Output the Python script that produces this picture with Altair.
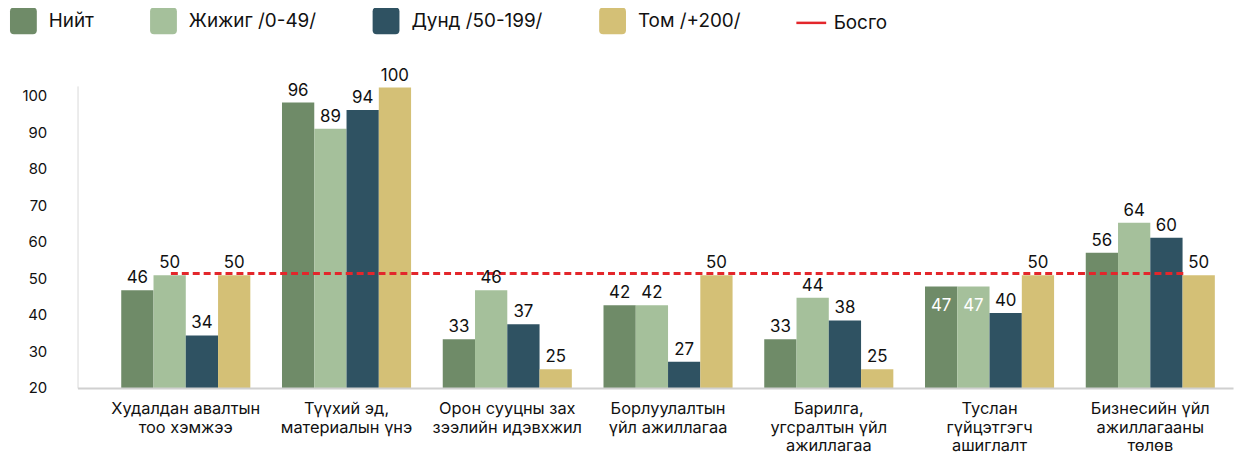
import altair as alt
import pandas as pd

# ---------------- data ----------------
categories = [
    "Худалдан авалтын\nтоо хэмжээ",
    "Түүхий эд,\nматериалын үнэ",
    "Орон сууцны зах\nзээлийн идэвхжил",
    "Борлуулалтын\nүйл ажиллагаа",
    "Барилга,\nугсралтын үйл\nажиллагаа",
    "Туслан\nгүйцэтгэгч\nашиглалт",
    "Бизнесийн үйл\nажиллагааны\nтөлөв",
]
series_names = ["Нийт", "Жижиг /0-49/", "Дунд /50-199/", "Том /+200/"]
niit = [46, 96, 33, 42, 33, 47, 56]
jijig = [50, 89, 46, 42, 44, 47, 64]
dund = [34, 94, 37, 27, 38, 40, 60]
tom = [50, 100, 25, 50, 25, 50, 50]
threshold_name = "Босго"
threshold_value = 50.5
y_tick_values = [20, 30, 40, 50, 60, 70, 80, 90, 100]

# ---------------- style ----------------
colors = ["#6F8B68", "#A5C09B", "#2F5262", "#D4C076"]
red = "#E3262B"
text_color = "#111111"
rounded_square = "M-0.7,-1H0.7Q1,-1,1,-0.7V0.7Q1,1,0.7,1H-0.7Q-1,1,-1,0.7V-0.7Q-1,-1,-0.7,-1Z"

rows = []
for s, vals in zip(series_names, [niit, jijig, dund, tom]):
    for c, v in zip(categories, vals):
        rows.append({"cat": c, "series": s, "value": v})
df = pd.DataFrame(rows)
# labels drawn inside the bar (white) for these two bars, as in the original
df["inside"] = (df["cat"] == categories[5]) & df["series"].isin(series_names[:2])

rule_df = pd.DataFrame({
    "cat": [categories[0]],
    "cat_end": [categories[-1]],
    "value": [threshold_value],
    "name": [threshold_name],
})
axis_df = pd.DataFrame({"v": y_tick_values})

x_enc = alt.X(
    "cat:N",
    sort=categories,
    scale=alt.Scale(domain=categories, paddingInner=0.197, paddingOuter=0.1925, align=0.706),
    axis=alt.Axis(
        title=None,
        labelExpr="split(datum.label, '\\n')",
        labelAngle=0,
        labelFontSize=16.5,
        labelColor=text_color,
        labelLineHeight=18.5,
        labelPadding=13,
        labelBaseline="top",
        labelLimit=0,
        ticks=False,
        domainColor="#D0D0D0",
        domainWidth=2,
        zindex=1,
    ),
)
xoff = alt.XOffset(
    "series:N", sort=series_names,
    scale=alt.Scale(domain=series_names, paddingInner=0, paddingOuter=0),
)
y_enc = alt.Y("value:Q", scale=alt.Scale(domain=[20, 100.42], zero=False, nice=False), axis=None)

base = alt.Chart(df)

bars = base.mark_bar().encode(
    x=x_enc,
    xOffset=xoff,
    y=y_enc,
    y2=alt.datum(y_tick_values[0]),
    fill=alt.Fill(
        "series:N",
        sort=series_names,
        scale=alt.Scale(domain=series_names, range=colors),
        legend=alt.Legend(
            title=None, orient="none", legendX=-68, legendY=-79,
            direction="horizontal", columns=4,
            symbolType=rounded_square, symbolSize=729, symbolStrokeWidth=0,
            symbolOpacity=1,
            labelFontSize=19, labelOffset=12, labelColor=text_color,
            columnPadding=56, padding=0,
        ),
    ),
)

labels_out = base.transform_filter("!datum.inside").mark_text(
    dy=-7, baseline="alphabetic", fontSize=17, color=text_color
).encode(x=x_enc, xOffset=xoff, y=y_enc, text=alt.Text("value:Q"))

labels_in = base.transform_filter("datum.inside").mark_text(
    dy=25, baseline="alphabetic", fontSize=17, color="#FFFFFF"
).encode(x=x_enc, xOffset=xoff, y=y_enc, text=alt.Text("value:Q"))

rule = alt.Chart(rule_df).mark_rule(
    strokeDash=[7, 4], strokeWidth=3, xOffset=-15, x2Offset=37
).encode(
    x=x_enc,
    x2=alt.X2("cat_end:N"),
    y=y_enc,
    stroke=alt.Stroke(
        "name:N",
        scale=alt.Scale(domain=[threshold_name], range=[red]),
        legend=alt.Legend(
            title=None, orient="none", legendX=722, legendY=-80,
            symbolType="stroke", symbolSize=900, symbolStrokeWidth=2.5,
            symbolDash=[30, 0],
            labelFontSize=19, labelOffset=6, labelColor=text_color, padding=0,
        ),
    ),
)

inner = alt.layer(bars, rule, labels_out, labels_in)

axis_layer = alt.Chart(axis_df).mark_point(opacity=0).encode(
    y=alt.Y(
        "v:Q",
        scale=alt.Scale(domain=[20, 102.72], zero=False, nice=False),
        axis=alt.Axis(
            title=None, orient="left", values=y_tick_values, ticks=False, grid=False,
            domainColor="#D9D9D9", domainWidth=1,
            labelFontSize=15, labelPadding=31, labelColor=text_color,
        ),
    )
)

chart = (
    alt.layer(inner, axis_layer)
    .resolve_scale(y="independent")
    .properties(
        width=1163,
        height=304,
        padding={"left": 70, "top": 77, "right": 5, "bottom": 70},
        autosize=alt.AutoSizeParams(type="none"),
    )
    .configure(font="Inter")
    .configure_view(stroke=None)
)

chart.save("out.html", embed_options={"renderer": "svg", "actions": False})
